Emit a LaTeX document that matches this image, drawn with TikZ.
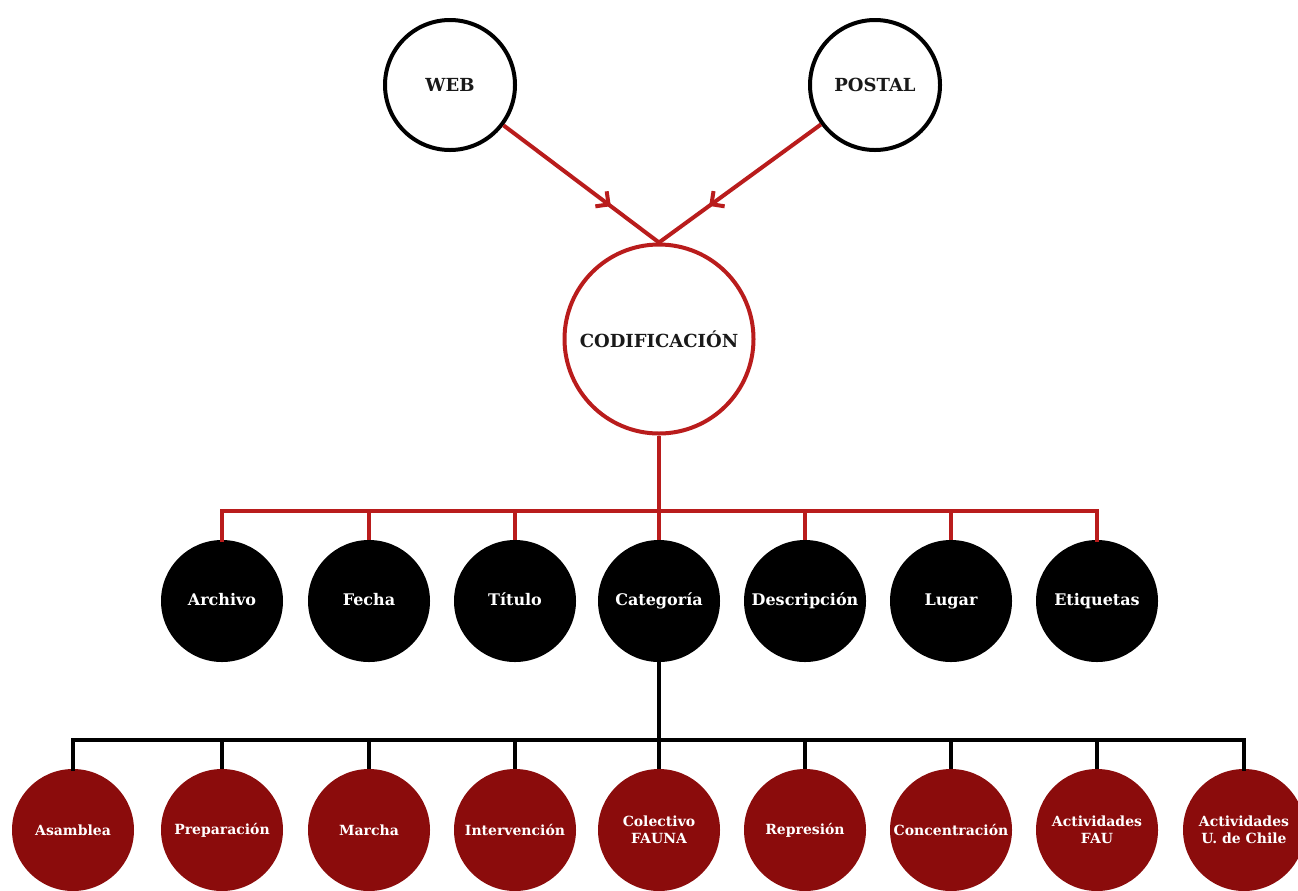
\documentclass[tikz,border=0pt]{standalone}
\usepackage{fontspec}
\setmainfont{DejaVu Serif}
\usetikzlibrary{arrows.meta,decorations.markings}
\definecolor{lred}{RGB}{185,28,28}
\definecolor{dred}{RGB}{139,12,12}
\definecolor{ink}{RGB}{25,25,25}
\begin{document}
\begin{tikzpicture}[x=0.75pt,y=-0.75pt,
  font=\bfseries\fontsize{12}{13.5}\selectfont,
  src/.style={circle,draw=black,line width=3pt,minimum size=130*0.75pt,inner sep=0pt,text=ink,align=center,font=\bfseries\fontsize{13.5}{15}\selectfont},
  hub/.style={circle,draw=lred,line width=3pt,minimum size=189*0.75pt,inner sep=0pt,text=ink,align=center,font=\bfseries\fontsize{13.5}{15}\selectfont},
  field/.style={circle,fill=black,minimum size=122*0.75pt,inner sep=0pt,text=white,align=center,text height=0.73em,text depth=0.05em},
  cat/.style={circle,fill=dred,minimum size=122*0.75pt,inner sep=0pt,text=white,align=center,font=\bfseries\fontsize{10.5}{12.5}\selectfont},
  redln/.style={draw=lred,line width=3pt},
  blkln/.style={draw=black,line width=3pt},
  midarrow/.style={postaction={decorate},decoration={markings,mark=at position 0.69 with {\arrow[lred,line width=3pt]{Straight Barb[angle=90:10pt]}}}}
]
\useasboundingbox (0,0) rectangle (1298,890);
\node[src] (web) at (450,85) {WEB};
\node[src] (postal) at (875,85) {POSTAL};
\node[hub] (cod) at (659,339) {CODIFICACIÓN};
\draw[redln,midarrow] (web) -- (cod.north);
\draw[redln,midarrow] (postal) -- (cod.north);

\foreach \n/\x/\t in {f1/222/Archivo,f2/369/Fecha,f3/515/Título,f4/659/Categoría,f5/805/Descripción,f6/951/Lugar,f7/1097/Etiquetas}
  \node[field] (\n) at (\x,601) {\t};
\coordinate (rj) at (659,511);
\draw[redln] (cod.south) -- (rj);
\draw[redln,line cap=rect] (f1.north) |- (f7.north |- rj) -- (f7.north);
\foreach \n in {f2,f3,f4,f5,f6} \draw[redln] (\n.north |- rj) -- (\n.north);

\foreach \n/\x/\t in {c1/73/Asamblea,c2/222/Preparación,c3/369/Marcha,c4/515/Intervención,c5/659/{Colectivo\\FAUNA},c6/805/Represión,c7/951/Concentración,c8/1097/{Actividades\\FAU},c9/1244/{Actividades\\U. de Chile}}
  \node[cat] (\n) at (\x,830) {\t};
\coordinate (bj) at (659,740);
\draw[blkln] (f4.south) -- (bj);
\draw[blkln,line cap=rect] (c1.north) |- (c9.north |- bj) -- (c9.north);
\foreach \n in {c2,c3,c4,c5,c6,c7,c8} \draw[blkln] (\n.north |- bj) -- (\n.north);
\end{tikzpicture}
\end{document}
